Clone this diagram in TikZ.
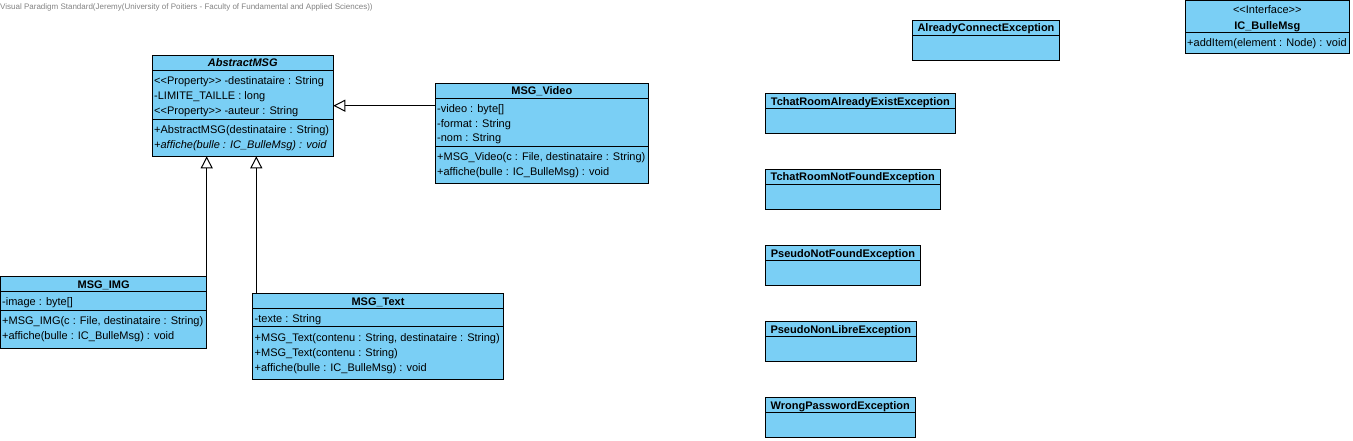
\documentclass[tikz,border=0pt]{standalone}
\usepackage{fontspec}
\setmainfont{Liberation Sans}
\usetikzlibrary{arrows.meta}
\definecolor{clsfill}{RGB}{122,207,245}
\definecolor{wmgray}{RGB}{130,130,130}
\tikzset{
  cls/.style={draw=black, line width=1pt, fill=clsfill, inner sep=0pt, outer sep=0pt, anchor=north west},
  sep/.style={draw=black, line width=1pt},
  attr/.style={anchor=base west, inner sep=0pt, font=\fontsize{11}{13}\selectfont},
  hdr/.style={anchor=base, inner sep=0pt, font=\fontsize{11}{13}\selectfont\bfseries},
  stereo/.style={anchor=base, inner sep=0pt, font=\fontsize{11}{13}\selectfont},
  gen/.style={draw=black, line width=1pt, -{Triangle[length=12pt,width=12pt,fill=white]}},
  wm/.style={anchor=base west, inner sep=0pt, text=wmgray, font=\fontsize{8}{10}\selectfont}
}
\begin{document}
\begin{tikzpicture}[x=1pt,y=-1pt]
\useasboundingbox (0,0) rectangle (1353,441);

\node[wm] (wmark) at (0,10) {Visual Paradigm Standard(Jeremy(University of Poitiers - Faculty of Fundamental and Applied Sciences))};

% AbstractMSG
\node[cls, minimum width=181, minimum height=101] (abs) at (152.3,55.3) {};
\draw[sep] (abs.west |- 0,70.3) -- (abs.east |- 0,70.3);
\draw[sep] (abs.west |- 0,119.3) -- (abs.east |- 0,119.3);
\node[hdr] (absH) at (242.8,66.8) {\textit{AbstractMSG}};
\node[attr] (absA1) at (154,84.7) {<{}<Property>{}> -destinataire : String};
\node[attr] (absA2) at (154,99.7) {-LIMITE\_TAILLE : long};
\node[attr] (absA3) at (154,114.2) {<{}<Property>{}> -auteur : String};
\node[attr] (absM1) at (154,133.3) {+AbstractMSG(destinataire : String)};
\node[attr] (absM2) at (154,148.3) {\itshape +affiche(bulle : IC\_BulleMsg) : void};

% MSG_Video
\node[cls, minimum width=213, minimum height=100.7] (vid) at (435.3,83.3) {};
\draw[sep] (vid.west |- 0,98.3) -- (vid.east |- 0,98.3);
\draw[sep] (vid.west |- 0,147) -- (vid.east |- 0,147);
\node[hdr] (vidH) at (541.8,95) {MSG\_Video};
\node[attr] (vidA1) at (437,112.3) {-video : byte[]};
\node[attr] (vidA2) at (437,127.3) {-format : String};
\node[attr] (vidA3) at (437,142) {-nom : String};
\node[attr] (vidM1) at (437,161) {+MSG\_Video(c : File, destinataire : String)};
\node[attr] (vidM2) at (437,176) {+affiche(bulle : IC\_BulleMsg) : void};

% MSG_IMG
\node[cls, minimum width=206.2, minimum height=71.6] (img) at (0.5,276.7) {};
\draw[sep] (img.west |- 0,291.7) -- (img.east |- 0,291.7);
\draw[sep] (img.west |- 0,310.7) -- (img.east |- 0,310.7);
\node[hdr] (imgH) at (103.6,288.3) {MSG\_IMG};
\node[attr] (imgA1) at (2,305.7) {-image : byte[]};
\node[attr] (imgM1) at (2,324.7) {+MSG\_IMG(c : File, destinataire : String)};
\node[attr] (imgM2) at (2,339) {+affiche(bulle : IC\_BulleMsg) : void};

% MSG_Text
\node[cls, minimum width=250.6, minimum height=85.7] (txt) at (252.7,293.3) {};
\draw[sep] (txt.west |- 0,308.7) -- (txt.east |- 0,308.7);
\draw[sep] (txt.west |- 0,326) -- (txt.east |- 0,326);
\node[hdr] (txtH) at (378,305) {MSG\_Text};
\node[attr] (txtA1) at (254.5,322.3) {-texte : String};
\node[attr] (txtM1) at (254.5,341.7) {+MSG\_Text(contenu : String, destinataire : String)};
\node[attr] (txtM2) at (254.5,356.3) {+MSG\_Text(contenu : String)};
\node[attr] (txtM3) at (254.5,371.3) {+affiche(bulle : IC\_BulleMsg) : void};

% generalizations
\draw[gen] (vid.west |- 0,105.7) -- (abs.east |- 0,105.7);
\draw[gen] (img.north east) -- (img.north east |- abs.south);
\draw[gen] (txt.north -| 256.3,0) -- (abs.south -| 256.3,0);

% Exceptions
\node[cls, minimum width=147.4, minimum height=39.6] (ace) at (912.3,20.7) {};
\draw[sep] (ace.west |- 0,35.3) -- (ace.east |- 0,35.3);
\node[hdr] (aceH) at (986,32) {AlreadyConnectException};

\node[cls, minimum width=190, minimum height=39.6] (tae) at (765.3,93.7) {};
\draw[sep] (tae.west |- 0,108.7) -- (tae.east |- 0,108.7);
\node[hdr] (taeH) at (860.3,105.2) {TchatRoomAlreadyExistException};

\node[cls, minimum width=175, minimum height=40] (tnf) at (765.3,169.3) {};
\draw[sep] (tnf.west |- 0,184.3) -- (tnf.east |- 0,184.3);
\node[hdr] (tnfH) at (852.8,180.8) {TchatRoomNotFoundException};

\node[cls, minimum width=155.4, minimum height=39.6] (pnf) at (765.3,245.7) {};
\draw[sep] (pnf.west |- 0,260.7) -- (pnf.east |- 0,260.7);
\node[hdr] (pnfH) at (843,257.2) {PseudoNotFoundException};

\node[cls, minimum width=151, minimum height=39.6] (pnl) at (765.3,321.7) {};
\draw[sep] (pnl.west |- 0,336.7) -- (pnl.east |- 0,336.7);
\node[hdr] (pnlH) at (840.8,333.2) {PseudoNonLibreException};

\node[cls, minimum width=150, minimum height=39.6] (wpe) at (765.3,397.7) {};
\draw[sep] (wpe.west |- 0,412.3) -- (wpe.east |- 0,412.3);
\node[hdr] (wpeH) at (840.3,409) {WrongPasswordException};

% Interface
\node[cls, minimum width=164, minimum height=52.7] (ibm) at (1185.3,1) {};
\draw[sep] (ibm.west |- 0,33) -- (ibm.east |- 0,33);
\node[stereo] (ibmS) at (1267.3,14) {<{}<Interface>{}>};
\node[hdr] (ibmH) at (1267.3,29.5) {IC\_BulleMsg};
\node[attr] (ibmM1) at (1187,47) {+addItem(element : Node) : void};
\end{tikzpicture}
\end{document}
